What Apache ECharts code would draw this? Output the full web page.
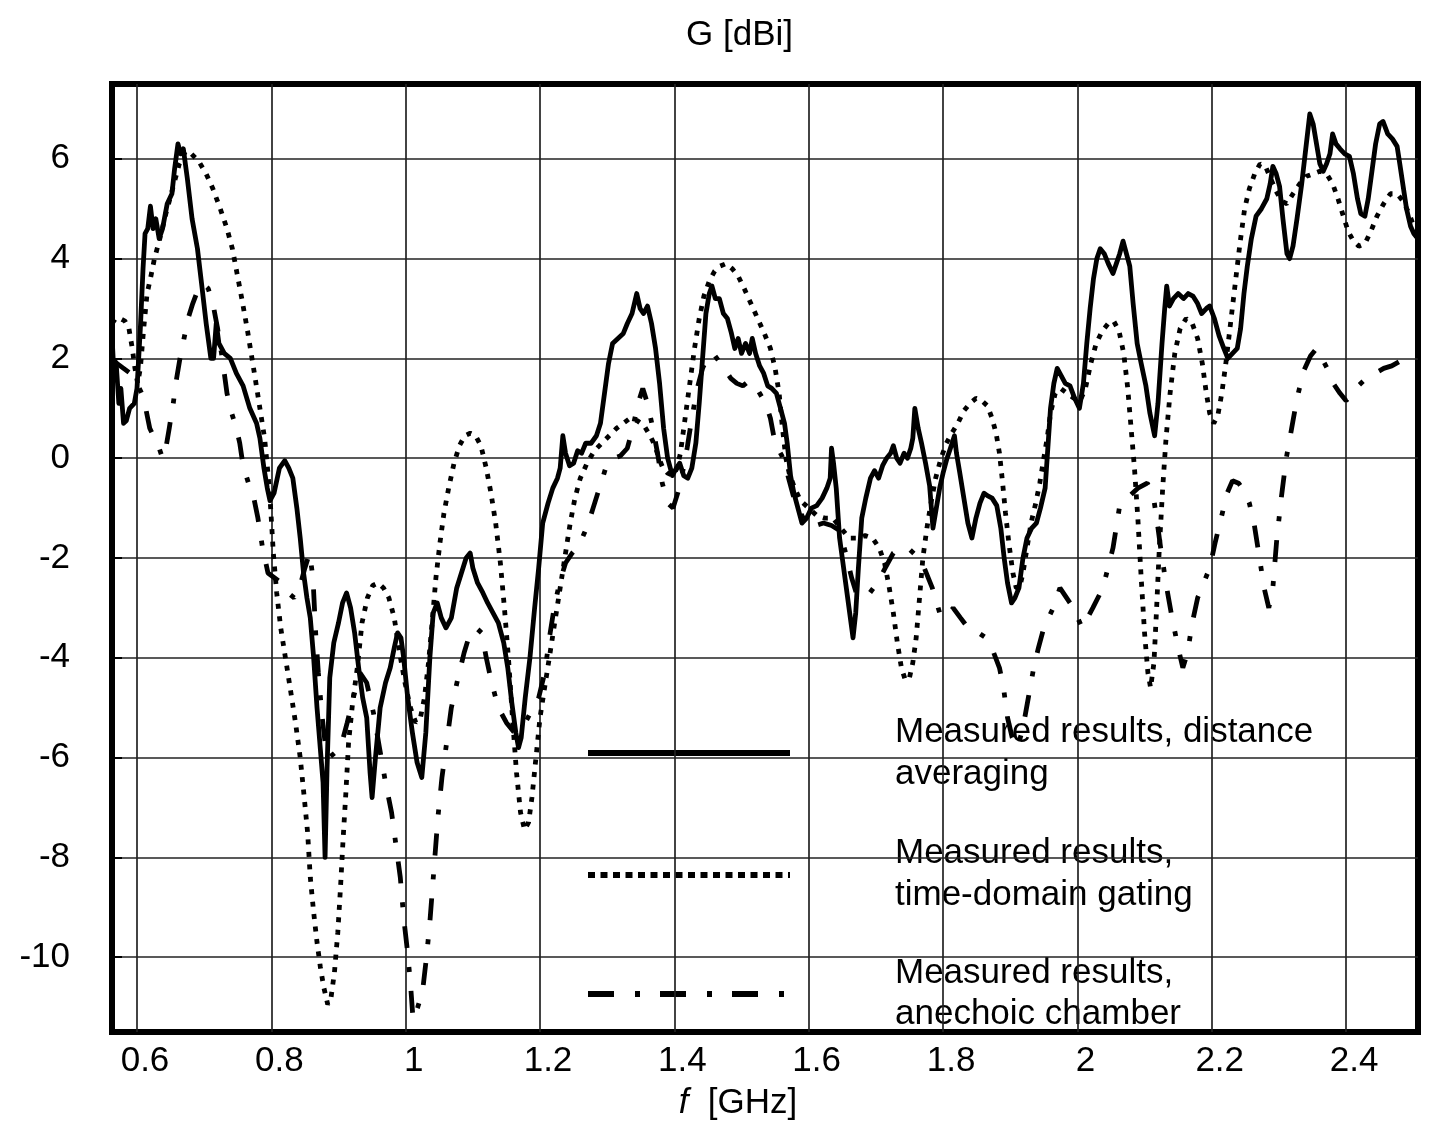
<!DOCTYPE html>
<html>
<head>
<meta charset="utf-8">
<title>G [dBi]</title>
<script src="https://cdn.jsdelivr.net/npm/echarts@6.0.0/dist/echarts.min.js"></script>
<style>
  html, body { margin: 0; padding: 0; background: #fff; }
  #chart { width: 1435px; height: 1126px; }
</style>
</head>
<body>
<div id="chart"></div>
<script>
// f [GHz], G [dBi]
var distanceAveraging = [
  [0.563, 2.4], [0.566, 1.6], [0.569, 1.9], [0.573, 1.1], [0.576, 1.4], [0.580, 0.7], [0.584, 0.75], [0.589, 1.0],
  [0.596, 1.1], [0.600, 1.4], [0.605, 2.6], [0.609, 3.8], [0.612, 4.5], [0.616, 4.6], [0.620, 5.05], [0.624, 4.6],
  [0.628, 4.8], [0.633, 4.4], [0.638, 4.6], [0.645, 5.1], [0.652, 5.3], [0.656, 5.8], [0.661, 6.3], [0.665, 6.1],
  [0.669, 6.2], [0.675, 5.6], [0.682, 4.8], [0.690, 4.2], [0.697, 3.4], [0.703, 2.7], [0.710, 2.0], [0.714, 2.0],
  [0.718, 2.7], [0.722, 2.3], [0.730, 2.1], [0.739, 2.0], [0.748, 1.7], [0.758, 1.45], [0.768, 1.0], [0.778, 0.7],
  [0.783, 0.4], [0.789, -0.2], [0.794, -0.6], [0.798, -0.85], [0.804, -0.7], [0.812, -0.2], [0.820, -0.05], [0.826, -0.2],
  [0.832, -0.4], [0.838, -1.0], [0.843, -1.6], [0.848, -2.3], [0.853, -2.8], [0.858, -3.2], [0.863, -4.0], [0.868, -5.0],
  [0.874, -6.0], [0.877, -6.5], [0.880, -8.0], [0.883, -6.2], [0.887, -4.4], [0.893, -3.7], [0.900, -3.3], [0.906, -2.9],
  [0.912, -2.7], [0.918, -3.0], [0.924, -3.5], [0.930, -4.2], [0.936, -4.8], [0.942, -5.2], [0.947, -6.3], [0.950, -6.8],
  [0.955, -6.0], [0.962, -5.0], [0.970, -4.5], [0.977, -4.2], [0.983, -3.8], [0.988, -3.5], [0.993, -3.6], [0.997, -4.0],
  [1.003, -4.8], [1.010, -5.5], [1.017, -6.1], [1.024, -6.4], [1.030, -5.5], [1.036, -4.0], [1.041, -3.1], [1.047, -2.9],
  [1.053, -3.2], [1.060, -3.4], [1.068, -3.2], [1.076, -2.6], [1.083, -2.3], [1.090, -2.0], [1.096, -1.9], [1.100, -2.2],
  [1.107, -2.5], [1.115, -2.7], [1.122, -2.9], [1.130, -3.1], [1.138, -3.3], [1.146, -3.7], [1.152, -4.2], [1.158, -4.9],
  [1.164, -5.5], [1.168, -5.8], [1.172, -5.6], [1.178, -4.8], [1.185, -4.0], [1.192, -3.0], [1.198, -2.2], [1.204, -1.3],
  [1.212, -0.9], [1.219, -0.6], [1.226, -0.4], [1.230, -0.2], [1.234, 0.45], [1.238, 0.1], [1.244, -0.15], [1.250, -0.1],
  [1.256, 0.15], [1.262, 0.1], [1.268, 0.3], [1.276, 0.3], [1.284, 0.45], [1.290, 0.7], [1.296, 1.3], [1.302, 1.9],
  [1.308, 2.3], [1.316, 2.4], [1.324, 2.5], [1.330, 2.7], [1.337, 2.9], [1.344, 3.3], [1.349, 3.0], [1.354, 2.9],
  [1.360, 3.05], [1.366, 2.7], [1.372, 2.2], [1.378, 1.5], [1.384, 0.6], [1.390, 0.0], [1.397, -0.35], [1.403, -0.2],
  [1.408, -0.1], [1.414, -0.35], [1.420, -0.4], [1.426, -0.2], [1.432, 0.3], [1.437, 1.1], [1.442, 2.0], [1.447, 2.9],
  [1.452, 3.3], [1.456, 3.45], [1.461, 3.2], [1.467, 3.2], [1.473, 2.9], [1.479, 2.8], [1.485, 2.5], [1.490, 2.2],
  [1.495, 2.4], [1.500, 2.1], [1.506, 2.3], [1.512, 2.1], [1.516, 2.4], [1.521, 2.1], [1.527, 1.85], [1.533, 1.7],
  [1.539, 1.45], [1.545, 1.4], [1.552, 1.3], [1.558, 1.0], [1.564, 0.7], [1.568, 0.3], [1.573, -0.35], [1.578, -0.7],
  [1.583, -0.95], [1.590, -1.3], [1.597, -1.2], [1.604, -1.0], [1.612, -0.95], [1.620, -0.8], [1.627, -0.6], [1.632, -0.4],
  [1.634, 0.2], [1.637, -0.1], [1.641, -0.6], [1.646, -1.6], [1.652, -2.2], [1.657, -2.7], [1.662, -3.2], [1.666, -3.6],
  [1.670, -3.1], [1.674, -2.2], [1.679, -1.2], [1.685, -0.8], [1.692, -0.4], [1.698, -0.25], [1.704, -0.4], [1.710, -0.15],
  [1.716, 0.0], [1.722, 0.1], [1.726, 0.25], [1.731, 0.0], [1.736, -0.1], [1.742, 0.1], [1.747, 0.0], [1.752, 0.2],
  [1.755, 0.4], [1.758, 1.0], [1.763, 0.6], [1.768, 0.3], [1.774, -0.1], [1.780, -0.55], [1.785, -1.4], [1.790, -1.0],
  [1.795, -0.6], [1.800, -0.3], [1.806, 0.0], [1.811, 0.2], [1.817, 0.45], [1.820, 0.1], [1.825, -0.3], [1.831, -0.8],
  [1.837, -1.3], [1.843, -1.6], [1.849, -1.2], [1.855, -0.9], [1.861, -0.7], [1.866, -0.75], [1.873, -0.8], [1.880, -0.95],
  [1.886, -1.4], [1.891, -2.0], [1.896, -2.5], [1.902, -2.9], [1.907, -2.8], [1.913, -2.6], [1.919, -2.0], [1.925, -1.6],
  [1.932, -1.4], [1.939, -1.3], [1.945, -1.0], [1.952, -0.6], [1.956, 0.2], [1.960, 1.0], [1.965, 1.5], [1.970, 1.8],
  [1.976, 1.65], [1.982, 1.5], [1.989, 1.45], [1.996, 1.2], [2.003, 1.0], [2.009, 1.5], [2.014, 2.3], [2.019, 3.0],
  [2.024, 3.6], [2.029, 4.0], [2.034, 4.2], [2.040, 4.1], [2.046, 3.9], [2.053, 3.7], [2.058, 3.9], [2.063, 4.1],
  [2.068, 4.35], [2.073, 4.1], [2.078, 3.85], [2.083, 3.1], [2.089, 2.3], [2.095, 1.9], [2.102, 1.45], [2.108, 0.9],
  [2.115, 0.45], [2.120, 1.1], [2.126, 2.3], [2.130, 3.0], [2.133, 3.45], [2.137, 3.05], [2.143, 3.2], [2.150, 3.3],
  [2.158, 3.2], [2.165, 3.3], [2.172, 3.25], [2.179, 3.1], [2.185, 2.9], [2.192, 3.0], [2.197, 3.05], [2.204, 2.8],
  [2.211, 2.45], [2.218, 2.2], [2.224, 2.0], [2.231, 2.1], [2.238, 2.2], [2.243, 2.6], [2.248, 3.3], [2.253, 3.85],
  [2.259, 4.4], [2.266, 4.85], [2.274, 5.0], [2.282, 5.2], [2.287, 5.5], [2.291, 5.85], [2.296, 5.7], [2.301, 5.45],
  [2.306, 4.8], [2.312, 4.1], [2.316, 4.0], [2.321, 4.25], [2.327, 4.8], [2.334, 5.5], [2.340, 6.2], [2.346, 6.9],
  [2.351, 6.7], [2.356, 6.3], [2.361, 5.9], [2.366, 5.75], [2.371, 5.9], [2.376, 6.1], [2.380, 6.5], [2.385, 6.3],
  [2.391, 6.2], [2.398, 6.1], [2.405, 6.05], [2.411, 5.7], [2.417, 5.2], [2.422, 4.9], [2.428, 4.85], [2.433, 5.2],
  [2.438, 5.7], [2.444, 6.3], [2.450, 6.7], [2.455, 6.75], [2.462, 6.5], [2.469, 6.4], [2.476, 6.25], [2.480, 5.9],
  [2.485, 5.45], [2.490, 5.0], [2.496, 4.65], [2.501, 4.5], [2.507, 4.4]
];

var timeDomainGating = [
  [0.563, 2.7], [0.568, 2.8], [0.575, 2.8], [0.582, 2.75], [0.588, 2.6], [0.593, 2.2], [0.597, 1.8], [0.601, 1.5],
  [0.605, 1.8], [0.610, 2.6], [0.615, 3.3], [0.620, 3.6], [0.626, 4.0], [0.634, 4.4], [0.643, 4.9], [0.653, 5.4],
  [0.663, 5.9], [0.672, 6.15], [0.681, 6.1], [0.692, 5.95], [0.703, 5.7], [0.713, 5.4], [0.724, 5.0], [0.734, 4.6],
  [0.742, 4.2], [0.749, 3.7], [0.756, 3.2], [0.764, 2.6], [0.770, 2.1], [0.776, 1.6], [0.783, 1.0], [0.790, 0.4],
  [0.795, -0.3], [0.799, -1.0], [0.803, -1.9], [0.808, -2.7], [0.814, -3.4], [0.821, -4.0], [0.828, -4.6], [0.836, -5.3],
  [0.843, -6.0], [0.849, -6.8], [0.854, -7.5], [0.858, -8.4], [0.863, -9.1], [0.868, -9.7], [0.873, -10.2], [0.878, -10.6],
  [0.884, -10.95], [0.889, -10.8], [0.894, -10.3], [0.899, -9.5], [0.903, -8.6], [0.907, -7.6], [0.911, -6.7], [0.915, -5.7],
  [0.921, -4.9], [0.928, -4.2], [0.935, -3.3], [0.943, -2.8], [0.951, -2.55], [0.959, -2.5], [0.967, -2.6], [0.975, -2.8],
  [0.983, -3.2], [0.991, -3.9], [0.999, -4.5], [1.007, -5.0], [1.015, -5.3], [1.022, -5.2], [1.028, -4.8], [1.034, -4.1],
  [1.040, -3.2], [1.045, -2.4], [1.051, -1.7], [1.057, -1.1], [1.064, -0.6], [1.072, -0.1], [1.080, 0.25], [1.088, 0.45],
  [1.096, 0.5], [1.104, 0.45], [1.112, 0.25], [1.120, -0.2], [1.127, -0.7], [1.134, -1.3], [1.141, -2.1], [1.147, -3.0],
  [1.153, -4.0], [1.159, -5.2], [1.165, -6.3], [1.171, -7.1], [1.177, -7.45], [1.183, -7.3], [1.188, -6.8], [1.194, -6.0],
  [1.200, -5.2], [1.208, -4.5], [1.215, -3.9], [1.223, -3.2], [1.230, -2.6], [1.238, -1.9], [1.245, -1.3], [1.252, -0.8],
  [1.260, -0.4], [1.270, -0.1], [1.281, 0.15], [1.292, 0.3], [1.303, 0.45], [1.314, 0.6], [1.324, 0.7], [1.334, 0.8],
  [1.345, 0.75], [1.355, 0.65], [1.364, 0.45], [1.371, 0.25], [1.377, 0.0], [1.383, -0.2], [1.390, -0.3], [1.398, -0.35],
  [1.404, -0.2], [1.409, 0.1], [1.414, 0.6], [1.419, 1.1], [1.424, 1.6], [1.430, 2.2], [1.437, 2.8], [1.444, 3.25],
  [1.452, 3.55], [1.460, 3.75], [1.468, 3.85], [1.477, 3.9], [1.486, 3.8], [1.495, 3.65], [1.504, 3.4], [1.514, 3.1],
  [1.524, 2.8], [1.534, 2.5], [1.543, 2.2], [1.550, 1.8], [1.556, 1.3], [1.561, 0.6], [1.566, 0.0], [1.571, -0.3],
  [1.579, -0.6], [1.588, -0.85], [1.600, -1.0], [1.612, -1.15], [1.624, -1.2], [1.636, -1.2], [1.648, -1.4], [1.660, -1.6],
  [1.672, -1.6], [1.684, -1.55], [1.695, -1.6], [1.705, -1.8], [1.713, -2.1], [1.720, -2.6], [1.726, -3.1], [1.732, -3.7],
  [1.738, -4.2], [1.744, -4.45], [1.750, -4.4], [1.755, -4.1], [1.760, -3.6], [1.765, -2.8], [1.770, -2.0], [1.776, -1.4],
  [1.782, -0.9], [1.789, -0.4], [1.797, 0.0], [1.805, 0.3], [1.813, 0.5], [1.822, 0.7], [1.831, 0.95], [1.840, 1.1],
  [1.849, 1.2], [1.858, 1.15], [1.866, 1.05], [1.873, 0.8], [1.879, 0.5], [1.884, 0.1], [1.888, -0.4], [1.893, -1.1],
  [1.898, -1.7], [1.904, -2.3], [1.909, -2.6], [1.914, -2.6], [1.919, -2.3], [1.925, -1.8], [1.931, -1.3], [1.938, -0.9],
  [1.944, -0.5], [1.950, 0.0], [1.955, 0.4], [1.960, 0.9], [1.967, 1.3], [1.975, 1.4], [1.985, 1.3], [1.995, 1.2],
  [2.004, 1.15], [2.012, 1.4], [2.020, 1.9], [2.028, 2.3], [2.037, 2.55], [2.046, 2.7], [2.054, 2.75], [2.062, 2.55],
  [2.069, 2.1], [2.075, 1.4], [2.080, 0.6], [2.085, -0.2], [2.090, -1.2], [2.095, -2.4], [2.100, -3.5], [2.105, -4.3],
  [2.109, -4.6], [2.114, -4.1], [2.118, -3.0], [2.122, -1.8], [2.127, -0.6], [2.132, 0.4], [2.138, 1.3], [2.145, 2.1],
  [2.153, 2.6], [2.162, 2.8], [2.171, 2.7], [2.179, 2.4], [2.186, 1.9], [2.192, 1.3], [2.197, 0.9], [2.203, 0.7],
  [2.209, 0.85], [2.215, 1.3], [2.221, 1.9], [2.228, 2.7], [2.235, 3.5], [2.242, 4.3], [2.249, 5.0], [2.256, 5.4],
  [2.264, 5.7], [2.272, 5.9], [2.280, 5.85], [2.288, 5.6], [2.296, 5.35], [2.304, 5.15], [2.312, 5.1], [2.321, 5.3],
  [2.331, 5.5], [2.341, 5.65], [2.351, 5.7], [2.361, 5.75], [2.371, 5.7], [2.380, 5.5], [2.388, 5.2], [2.396, 4.85],
  [2.403, 4.55], [2.411, 4.35], [2.419, 4.25], [2.428, 4.3], [2.437, 4.55], [2.446, 4.85], [2.456, 5.1], [2.466, 5.3],
  [2.476, 5.3], [2.485, 5.15], [2.494, 4.9], [2.502, 4.6], [2.507, 4.45]
];

var anechoicChamber = [
  [0.563, 2.0], [0.570, 1.9], [0.580, 1.8], [0.590, 1.7], [0.600, 1.5], [0.607, 1.3], [0.613, 1.0], [0.619, 0.6],
  [0.626, 0.4], [0.633, 0.2], [0.638, 0.0], [0.643, 0.2], [0.648, 0.6], [0.654, 1.1], [0.659, 1.6], [0.664, 2.0],
  [0.670, 2.4], [0.676, 2.8], [0.683, 3.1], [0.690, 3.35], [0.698, 3.5], [0.706, 3.4], [0.713, 3.1], [0.720, 2.6],
  [0.727, 2.0], [0.734, 1.3], [0.741, 0.9], [0.748, 0.6], [0.753, 0.3], [0.758, -0.15], [0.766, -0.5], [0.774, -0.8],
  [0.780, -1.2], [0.787, -1.8], [0.795, -2.3], [0.805, -2.4], [0.815, -2.5], [0.825, -2.7], [0.834, -2.8], [0.842, -2.6],
  [0.850, -2.2], [0.857, -1.9], [0.862, -2.4], [0.866, -3.5], [0.870, -4.3], [0.875, -5.1], [0.880, -5.7], [0.886, -6.0],
  [0.895, -5.9], [0.904, -5.75], [0.913, -5.3], [0.922, -4.8], [0.932, -4.3], [0.942, -4.5], [0.952, -5.1], [0.961, -5.8],
  [0.970, -6.5], [0.979, -7.1], [0.986, -7.8], [0.992, -8.4], [0.997, -9.2], [1.002, -9.8], [1.007, -10.5], [1.011, -11.25],
  [1.018, -11.0], [1.025, -10.7], [1.031, -10.0], [1.036, -9.3], [1.040, -8.6], [1.044, -7.9], [1.048, -7.2], [1.054, -6.4],
  [1.061, -5.7], [1.068, -5.0], [1.078, -4.4], [1.087, -3.9], [1.096, -3.5], [1.105, -3.4], [1.113, -3.5], [1.120, -4.0],
  [1.128, -4.5], [1.138, -5.0], [1.150, -5.3], [1.162, -5.5], [1.174, -5.4], [1.186, -5.1], [1.198, -4.8], [1.207, -4.3],
  [1.214, -3.6], [1.221, -3.0], [1.229, -2.5], [1.238, -2.1], [1.248, -1.9], [1.258, -1.75], [1.266, -1.5], [1.272, -1.3],
  [1.279, -1.0], [1.286, -0.7], [1.292, -0.45], [1.300, -0.1], [1.310, 0.0], [1.320, 0.05], [1.330, 0.2], [1.338, 0.6],
  [1.346, 1.1], [1.353, 1.4], [1.360, 1.1], [1.368, 0.6], [1.375, 0.1], [1.382, -0.5], [1.390, -0.9], [1.398, -1.0],
  [1.405, -0.7], [1.412, -0.3], [1.419, 0.2], [1.426, 0.8], [1.434, 1.4], [1.442, 1.8], [1.450, 2.05], [1.458, 2.1],
  [1.466, 1.95], [1.474, 1.8], [1.484, 1.6], [1.493, 1.5], [1.502, 1.45], [1.511, 1.55], [1.518, 1.5], [1.527, 1.3],
  [1.536, 1.1], [1.543, 0.8], [1.550, 0.3], [1.560, 0.05], [1.568, -0.3], [1.577, -0.75], [1.588, -1.1], [1.598, -1.35],
  [1.610, -1.35], [1.622, -1.3], [1.634, -1.35], [1.646, -1.45], [1.655, -1.9], [1.664, -2.4], [1.672, -2.75], [1.681, -2.8],
  [1.691, -2.7], [1.702, -2.5], [1.714, -2.2], [1.726, -1.9], [1.738, -1.8], [1.748, -1.8], [1.760, -1.95], [1.772, -2.2],
  [1.784, -2.6], [1.795, -3.1], [1.805, -3.2], [1.815, -3.0], [1.826, -3.2], [1.840, -3.45], [1.853, -3.5], [1.864, -3.6],
  [1.874, -3.85], [1.884, -4.2], [1.890, -4.6], [1.896, -5.2], [1.903, -5.6], [1.911, -5.8], [1.919, -5.4], [1.927, -4.8],
  [1.935, -4.2], [1.942, -3.8], [1.950, -3.4], [1.964, -3.0], [1.974, -2.6], [1.984, -2.8], [1.994, -3.0], [2.007, -3.4],
  [2.023, -3.0], [2.038, -2.6], [2.053, -1.8], [2.063, -0.95], [2.078, -0.75], [2.090, -0.6], [2.104, -0.5], [2.113, -0.75],
  [2.119, -1.3], [2.125, -1.9], [2.133, -2.6], [2.141, -3.2], [2.150, -3.8], [2.157, -4.2], [2.164, -3.9], [2.171, -3.3],
  [2.179, -2.8], [2.188, -2.5], [2.197, -2.2], [2.205, -1.7], [2.214, -1.2], [2.223, -0.7], [2.231, -0.45], [2.240, -0.5],
  [2.248, -0.65], [2.256, -0.9], [2.263, -1.3], [2.270, -1.9], [2.278, -2.6], [2.285, -3.0], [2.291, -2.6], [2.297, -1.6],
  [2.304, -0.75], [2.311, 0.0], [2.319, 0.6], [2.327, 1.2], [2.337, 1.75], [2.347, 2.05], [2.356, 2.2], [2.364, 2.0],
  [2.372, 1.8], [2.381, 1.5], [2.391, 1.3], [2.400, 1.15], [2.409, 1.3], [2.418, 1.45], [2.430, 1.6], [2.443, 1.7],
  [2.456, 1.8], [2.468, 1.85], [2.481, 1.95], [2.494, 2.0], [2.507, 2.05]
];

var seriesNames = [
  'Measured results, distance\naveraging',
  'Measured results,\ntime-domain gating',
  'Measured results,\nanechoic chamber'
];
var xTicks = [0.6, 0.8, 1.0, 1.2, 1.4, 1.6, 1.8, 2.0, 2.2, 2.4];
var yTicks = [-10, -8, -6, -4, -2, 0, 2, 4, 6];

var FONT = '"Liberation Sans", Arial, sans-serif';
var INK = '#000';

// line dash patterns, shared by series and their key
var dotted = [5, 7.5];
var dashDot = [22, 19, 5, 19];

var chart = echarts.init(document.getElementById('chart'));

var option = {
  backgroundColor: '#fff',
  animation: false,
  title: {
    text: 'G [dBi]',
    left: 681,
    top: 13,
    textStyle: { fontFamily: FONT, fontSize: 35, fontWeight: 'normal', color: INK }
  },
  grid: {
    left: 112, top: 84, width: 1306, height: 949,
    show: true, borderColor: '#000', borderWidth: 6, backgroundColor: 'transparent'
  },
  xAxis: {
    type: 'value',
    min: 0.5628,
    max: 2.5071,
    name: '{it|f}  [GHz]',
    nameLocation: 'middle',
    nameGap: 54,
    nameTextStyle: {
      fontFamily: FONT, fontSize: 35, color: INK, padding: [0, 54, 0, 0],
      rich: { it: { fontFamily: FONT, fontSize: 35, fontStyle: 'italic', color: INK } }
    },
    axisLine: { show: false },
    axisTick: { show: false, customValues: xTicks },
    axisLabel: {
      customValues: xTicks,
      margin: 12,
      padding: [0, 0, 0, 16],
      fontFamily: FONT, fontSize: 35, color: INK,
      formatter: function (v) { return String(+v.toFixed(1)); }
    },
    splitLine: { show: true, lineStyle: { color: '#222', width: 1.7 } }
  },
  yAxis: {
    type: 'value',
    min: -11.5,
    max: 7.5,
    axisLine: { show: false },
    axisTick: { show: true, inside: true, length: 10, customValues: yTicks, lineStyle: { color: '#000', width: 2 } },
    axisLabel: {
      customValues: yTicks,
      margin: 42,
      fontFamily: FONT, fontSize: 35, color: INK
    },
    splitLine: { show: true, lineStyle: { color: '#222', width: 1.7 } }
  },
  series: [
    {
      name: seriesNames[0], type: 'line', data: distanceAveraging, showSymbol: false,
      lineStyle: { color: '#000', width: 4.8, join: 'round' }
    },
    {
      name: seriesNames[1], type: 'line', data: timeDomainGating, showSymbol: false,
      lineStyle: { color: '#000', width: 4.8, type: dotted, cap: 'butt' }
    },
    {
      name: seriesNames[2], type: 'line', data: anechoicChamber, showSymbol: false,
      lineStyle: { color: '#000', width: 4.8, type: dashDot, cap: 'butt' }
    }
  ],
  graphic: [
    { type: 'line', shape: { x1: 588, y1: 753, x2: 790, y2: 753 }, style: { stroke: '#000', lineWidth: 6 } },
    { type: 'line', shape: { x1: 588, y1: 875, x2: 790, y2: 875 }, style: { stroke: '#000', lineWidth: 6, lineDash: [7, 5.5] } },
    { type: 'line', shape: { x1: 588, y1: 994, x2: 790, y2: 994 }, style: { stroke: '#000', lineWidth: 6, lineDash: [26, 21, 5, 20] } },
    { type: 'text', x: 895, y: 711, style: { text: seriesNames[0], font: '35px ' + FONT, lineHeight: 42, fill: INK } },
    { type: 'text', x: 895, y: 832, style: { text: seriesNames[1], font: '35px ' + FONT, lineHeight: 42, fill: INK } },
    { type: 'text', x: 895, y: 953, style: { text: seriesNames[2], font: '35px ' + FONT, lineHeight: 41, fill: INK } }
  ]
};

chart.setOption(option);
</script>
</body>
</html>
